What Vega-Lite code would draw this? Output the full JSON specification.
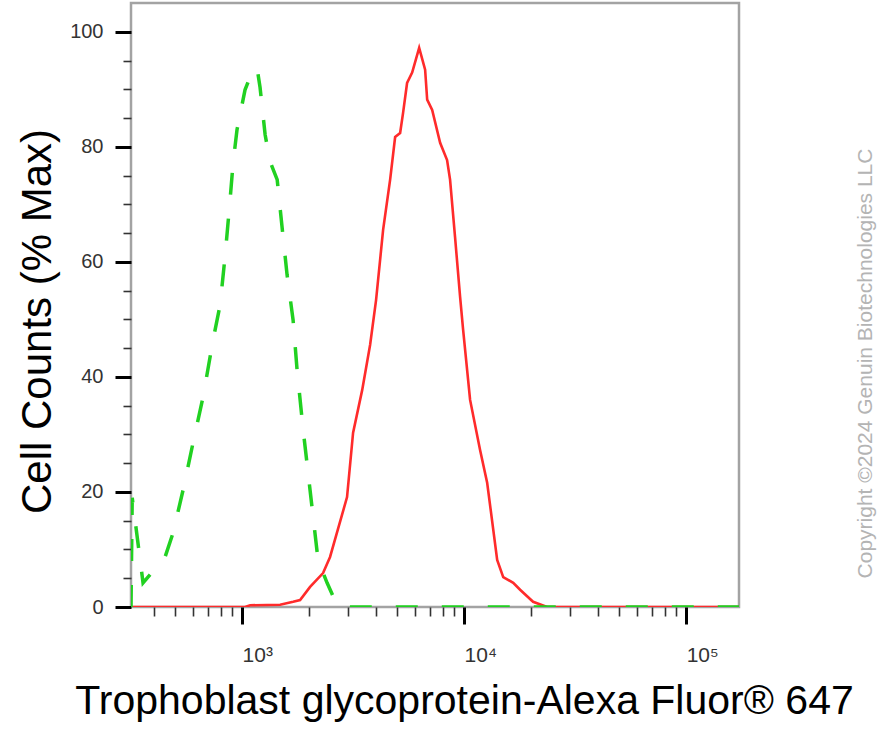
{
  "$schema": "https://vega.github.io/schema/vega-lite/v6.json",
  "width": 608,
  "height": 604,
  "autosize": {"type": "none"},
  "padding": {"left": 131, "top": 3, "right": 155, "bottom": 123},
  "background": "white",
  "config": {
    "view": {"stroke": "#a3a3a3", "strokeWidth": 2.5},
    "font": "Liberation Sans",
    "axis": {"grid": false}
  },
  "datasets": {
    "stained": [
      {"x": 316, "y": 0}, {"x": 1031, "y": 0}, {"x": 1087, "y": 0.3}, {"x": 1483, "y": 0.4},
      {"x": 1698, "y": 0.9}, {"x": 1825, "y": 1.2}, {"x": 2024, "y": 3.5}, {"x": 2316, "y": 5.9},
      {"x": 2490, "y": 8.7}, {"x": 2970, "y": 19.1}, {"x": 3162, "y": 30.3}, {"x": 3474, "y": 37.7},
      {"x": 3773, "y": 45.6}, {"x": 4014, "y": 53.4}, {"x": 4318, "y": 65.6}, {"x": 4643, "y": 74.3},
      {"x": 4890, "y": 81.7}, {"x": 5150, "y": 82.4}, {"x": 5310, "y": 85.9}, {"x": 5535, "y": 91.1},
      {"x": 5834, "y": 92.9}, {"x": 6274, "y": 97.2}, {"x": 6674, "y": 93.4}, {"x": 6817, "y": 88.2},
      {"x": 7180, "y": 86.4}, {"x": 7797, "y": 80.7}, {"x": 8380, "y": 77.7}, {"x": 8644, "y": 74.3},
      {"x": 9103, "y": 64.3}, {"x": 9592, "y": 53.9}, {"x": 9896, "y": 48.2}, {"x": 10640, "y": 36.0},
      {"x": 11800, "y": 27.3}, {"x": 12700, "y": 21.6}, {"x": 14090, "y": 8.2}, {"x": 15000, "y": 5.2},
      {"x": 16640, "y": 4.2}, {"x": 17870, "y": 3.0}, {"x": 20450, "y": 0.9}, {"x": 23650, "y": 0},
      {"x": 173000, "y": 0}
    ],
    "control": [
      {"x": 316, "y": 0}, {"x": 320, "y": 19.0}, {"x": 358, "y": 4.2}, {"x": 450, "y": 8.7},
      {"x": 489, "y": 12.9}, {"x": 542, "y": 20.3}, {"x": 601, "y": 28.5}, {"x": 667, "y": 36.5},
      {"x": 740, "y": 46.4}, {"x": 796, "y": 52.5}, {"x": 838, "y": 60.9}, {"x": 883, "y": 70.8},
      {"x": 911, "y": 77.2}, {"x": 949, "y": 83.0}, {"x": 1031, "y": 89.9}, {"x": 1109, "y": 93.0},
      {"x": 1168, "y": 93.7}, {"x": 1205, "y": 90.3}, {"x": 1270, "y": 82.1}, {"x": 1337, "y": 77.4},
      {"x": 1439, "y": 74.3}, {"x": 1515, "y": 65.9}, {"x": 1595, "y": 57.7}, {"x": 1697, "y": 49.9},
      {"x": 1769, "y": 41.2}, {"x": 1884, "y": 30.8}, {"x": 2024, "y": 20.3}, {"x": 2198, "y": 8.2},
      {"x": 2414, "y": 4.2}, {"x": 2679, "y": 0.3}, {"x": 3065, "y": 0}, {"x": 173000, "y": 0}
    ]
  },
  "layer": [
    {
      "data": {"name": "stained"},
      "mark": {"type": "line", "color": "#ff2b2b", "strokeWidth": 2.6, "clip": true},
      "encoding": {
        "x": {
          "field": "x", "type": "quantitative",
          "scale": {"type": "log", "domain": [316, 173000], "nice": false},
          "axis": {
            "orient": "bottom",
            "values": [400, 500, 600, 700, 800, 900, 2000, 3000, 4000, 5000, 6000, 7000, 8000, 9000, 20000, 30000, 40000, 50000, 60000, 70000, 80000, 90000],
            "labels": false, "domain": false, "title": null,
            "tickSize": 9, "tickWidth": 1.6, "tickColor": "#333333"
          }
        },
        "y": {
          "field": "y", "type": "quantitative",
          "scale": {"domain": [0, 105], "nice": false, "zero": true},
          "axis": {
            "orient": "left",
            "values": [5, 10, 15, 25, 30, 35, 45, 50, 55, 65, 70, 75, 85, 90, 95],
            "labels": false, "domain": false, "title": null,
            "tickSize": 8, "tickWidth": 1.6, "tickColor": "#333333"
          }
        }
      }
    },
    {
      "data": {"name": "control"},
      "mark": {"type": "line", "color": "#21d121", "strokeWidth": 3.5, "strokeDash": [22, 24], "clip": true},
      "encoding": {
        "x": {
          "field": "x", "type": "quantitative",
          "scale": {"type": "log", "domain": [316, 173000], "nice": false},
          "axis": {
            "orient": "bottom",
            "values": [1000, 10000, 100000],
            "labelExpr": "datum.value == 1000 ? '10³' : datum.value == 10000 ? '10⁴' : '10⁵'",
            "labelAlign": "left",
            "labelBaseline": "alphabetic",
            "labelPadding": 37,
            "labelFontSize": 21,
            "labelColor": "#333333",
            "labelFlush": false,
            "labelOverlap": false,
            "tickSize": 17, "tickWidth": 3, "tickColor": "#000000",
            "domain": false,
            "title": "Trophoblast glycoprotein-Alexa Fluor® 647",
            "titleFont": "Liberation Sans",
            "titleFontSize": 41,
            "titleFontWeight": "normal",
            "titleColor": "#000000",
            "titleX": 333,
            "titleY": 106,
            "titleBaseline": "alphabetic",
            "titleAlign": "center"
          }
        },
        "y": {
          "field": "y", "type": "quantitative",
          "scale": {"domain": [0, 105], "nice": false, "zero": true},
          "axis": {
            "orient": "left",
            "values": [0, 20, 40, 60, 80, 100],
            "labelPadding": 12,
            "labelFontSize": 20,
            "labelColor": "#333333",
            "labelBaseline": "middle",
            "labelFlush": false,
            "labelOverlap": false,
            "tickSize": 16, "tickWidth": 3, "tickColor": "#000000",
            "domain": false,
            "title": "Cell Counts (% Max)",
            "titleFont": "Liberation Sans",
            "titleFontSize": 42,
            "titleFontWeight": "normal",
            "titleColor": "#000000",
            "titleAngle": 270,
            "titleX": -81,
            "titleY": 318,
            "titleBaseline": "alphabetic",
            "titleAlign": "center"
          }
        }
      }
    },
    {
      "data": {"name": "control"},
      "mark": {"type": "line", "strokeOpacity": 0, "clip": true},
      "encoding": {
        "x": {
          "field": "x", "type": "quantitative",
          "scale": {"type": "log", "domain": [316, 173000], "nice": false},
          "axis": null
        },
        "y": {
          "field": "y", "type": "quantitative",
          "scale": {"domain": [0, 105], "nice": false, "zero": true},
          "axis": {
            "orient": "right",
            "labels": false,
            "ticks": false,
            "domain": false,
            "title": "Copyright ©2024 Genuin Biotechnologies LLC",
            "titleFont": "Liberation Sans",
            "titleFontSize": 21,
            "titleFontWeight": "normal",
            "titleColor": "#b4b4b4",
            "titleAngle": 270,
            "titleX": 126,
            "titleY": 360,
            "titleBaseline": "middle",
            "titleAlign": "center"
          }
        }
      }
    }
  ],
  "resolve": {"axis": {"x": "independent", "y": "independent"}}
}
